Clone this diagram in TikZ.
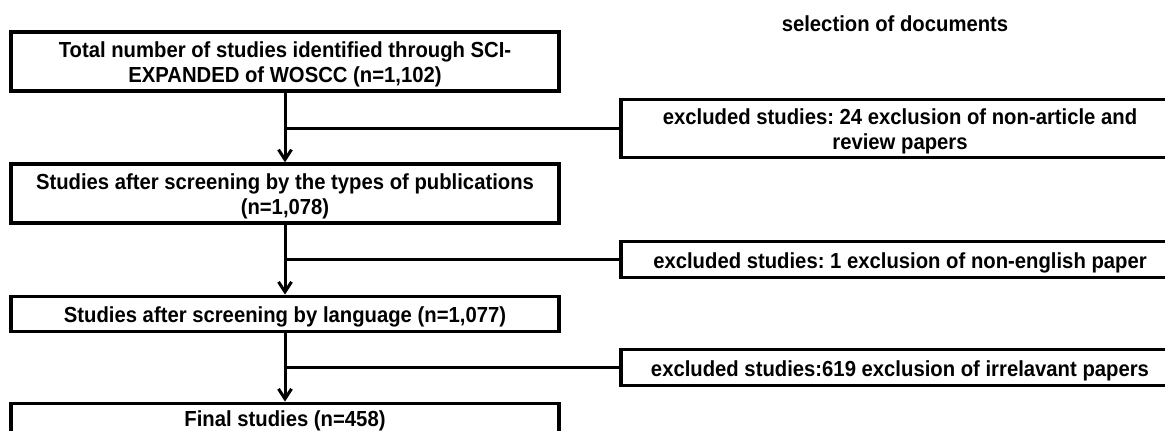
\documentclass[tikz,border=0pt]{standalone}
\usepackage{fontspec}
\setmainfont{Liberation Sans}[FakeStretch=0.93]
\usetikzlibrary{arrows.meta}
\begin{document}
\frenchspacing
\begin{tikzpicture}[x=1pt,y=-1pt,
  box/.style={draw, line width=3.3pt, inner sep=0pt, align=center,
    font=\bfseries\fontsize{21.8}{25.5}\selectfont},
  two/.style={text height=43pt, text depth=1pt, minimum height=59pt},
  one/.style={text height=18pt, text depth=1pt, minimum height=35.5pt},
  mainbox/.style={box, minimum width=548pt},
  sidebox/.style={box, minimum width=558pt},
  conn/.style={line width=3pt},
  arr/.style={conn, -{Straight Barb[length=10pt,width=13pt]}},
  title/.style={font=\bfseries\fontsize{21.8}{25.5}\selectfont}]
\clip (0,0) rectangle (1165,431);
\node[mainbox, two] (b1) at (285,61.5)
  {Total number of studies identified through SCI-\\EXPANDED of WOSCC (n=1,102)};
\node[mainbox, two] (b2) at (285,193.5)
  {Studies after screening by the types of publications\\(n=1,078)};
\node[mainbox, one] (b3) at (285,314)
  {Studies after screening by language (n=1,077)};
\node[mainbox, one, text height=11pt] (b4) at (285,421)
  {Final studies (n=458)};
\node[sidebox, two, minimum height=58pt] (r1) at (900,128.5)
  {excluded studies: 24 exclusion of non-article and\\review papers};
\node[sidebox, one] (r2) at (900,259.5)
  {excluded studies: 1 exclusion of non-english paper};
\node[sidebox, one] (r3) at (900,367.5)
  {excluded studies:619 exclusion of irrelavant papers};
\node[title] (t) at (895,24) {selection of documents};
\draw[arr] (b1.south) -- (b2.north);
\draw[arr] (b2.south) -- (b3.north);
\draw[arr] (b3.south) -- (b4.north);
\draw[conn] (b1.south |- r1.west) -- (r1.west);
\draw[conn] (b2.south |- r2.west) -- (r2.west);
\draw[conn] (b3.south |- r3.west) -- (r3.west);
\end{tikzpicture}
\end{document}
